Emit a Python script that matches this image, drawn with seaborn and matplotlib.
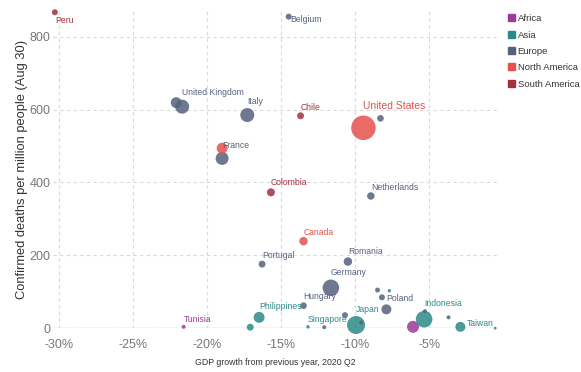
import matplotlib
matplotlib.use("Agg")
import matplotlib.pyplot as plt
import matplotlib.patches as mpatches
import seaborn as sns
import pandas as pd
import numpy as np

# ---- data ----
countries = ["Nigeria", "Tunisia",
             "Malaysia", "Philippines", "Singapore", "Israel", "Japan", "Indonesia", "South Korea", "Taiwan",
             "Belgium", "Spain", "United Kingdom", "Italy", "France", "Sweden", "Netherlands", "Romania",
             "Germany", "Hungary", "Portugal", "Poland", "", "", "", "", "", "", "",
             "Mexico", "United States", "Canada",
             "Peru", "Colombia", "Chile"]
continent = ["Africa", "Africa",
             "Asia", "Asia", "Asia", "Asia", "Asia", "Asia", "Asia", "Asia",
             "Europe", "Europe", "Europe", "Europe", "Europe", "Europe", "Europe", "Europe",
             "Europe", "Europe", "Europe", "Europe", "Europe", "Europe", "Europe", "Europe", "Europe", "Europe", "Europe",
             "North America", "North America", "North America",
             "South America", "South America", "South America"]
gdp_growth = [-6.1, -21.6,
              -17.1, -16.5, -13.2, -7.7, -9.95, -5.35, -2.9, -0.55,
              -14.5, -22.1, -21.7, -17.3, -19.0, -8.3, -8.95, -10.5,
              -11.65, -13.5, -16.3, -7.9, -8.5, -8.2, -10.7, -9.6, -12.1, -5.3, -3.7,
              -19.0, -9.45, -13.5,
              -30.3, -15.7, -13.7]
deaths_per_million = [4, 4,
                      3, 30, 4, 103, 9, 25, 4, 0.3,
                      855, 619, 608, 585, 466, 576, 363, 183,
                      111, 62, 176, 52, 105, 85, 36, 16, 3, 47, 30,
                      494, 550, 239,
                      867, 373, 583]
bubble_value = [36, 4,
                12, 30, 3, 3, 81, 69, 25, 2,
                9, 30, 49, 49, 42, 11, 14, 18,
                69, 11, 12, 25, 6, 9, 9, 4, 4, 4, 4,
                30, 150, 18,
                9, 16, 12]
legend_order = ["Africa", "Asia", "Europe", "North America", "South America"]
x_ticks = [-30, -25, -20, -15, -10, -5]
y_ticks = [0, 200, 400, 600, 800]

df = pd.DataFrame({"country": countries, "continent": continent,
                   "gdp": gdp_growth, "deaths": deaths_per_million, "bubble": bubble_value})

# ---- styles ----
palette = {"Africa": "#9a3b98", "Asia": "#2b8a87", "Europe": "#56617e",
           "North America": "#e5514d", "South America": "#a2303d"}
label_offsets = {  # (dx, dy) in pixels, screen-down positive
    "Peru": (0, 8), "Belgium": (2, 3), "United Kingdom": (0, -14), "Italy": (0, -14),
    "France": (0, -13), "Colombia": (0, -10), "Chile": (0, -8), "United States": (0, -22),
    "Netherlands": (0, -8), "Canada": (0, -9), "Romania": (0, -10), "Germany": (0, -15),
    "Hungary": (0, -9), "Poland": (0, -11), "Japan": (0, -16), "Singapore": (0, -7),
    "Indonesia": (0, -16), "Taiwan": (-2, -5), "Portugal": (0, -9), "Philippines": (0, -11),
    "Tunisia": (0, -7),
}

sns.set_style("white")
fam = ["Liberation Sans", "DejaVu Sans"]
plt.rcParams["font.family"] = fam

fig = plt.figure(figsize=(5.81, 3.72), dpi=100)
ax = fig.add_axes([0.0919, 0.1175, 0.7629, 0.8525])

sns.scatterplot(data=df, x="gdp", y="deaths", hue="continent", hue_order=legend_order,
                palette=palette, size="bubble", sizes=(0, 311), size_norm=(0, 150),
                alpha=0.85, linewidth=0, legend=False, ax=ax, clip_on=False, zorder=3)

ax.set_xlim(-30.4, -0.45)
ax.set_ylim(0, 870)
ax.set_xticks(x_ticks)
ax.set_xticklabels([f"{t}%" for t in x_ticks])
ax.set_yticks(y_ticks)
ax.tick_params(axis="both", length=0, labelsize=9, labelcolor="#777777")
ax.tick_params(axis="x", pad=8)
ax.tick_params(axis="y", pad=2)
for s in ax.spines.values():
    s.set_visible(False)
ax.grid(True, linestyle=(0, (3, 3)), color="#d9d9d9", linewidth=0.8)
ax.axhline(0, color="#cccccc", linewidth=1.0, zorder=1)

ax.set_xlabel("GDP growth from previous year, 2020 Q2", fontsize=6.3, color="#333333", labelpad=5)
ax.set_ylabel("Confirmed deaths per million people (Aug 30)", fontsize=9.3, color="#333333", labelpad=1)

for _, row in df.iterrows():
    name = row["country"]
    if name in label_offsets:
        dx, dy = label_offsets[name]
        ha = "right" if name == "Taiwan" else "left"
        fs = 7.5 if name == "United States" else 6.2
        ax.annotate(name, (row["gdp"], row["deaths"]), xytext=(dx * 0.72, -dy * 0.72),
                    textcoords="offset points", ha=ha, va="center", fontsize=fs,
                    color=palette[row["continent"]], zorder=5, annotation_clip=False)

handles = [mpatches.Patch(color=palette[c], label=c) for c in legend_order]
fig.legend(handles=handles, loc="upper left", bbox_to_anchor=(0.874, 0.962), frameon=False,
           fontsize=6.8, handlelength=0.75, handleheight=0.75, handletextpad=0.3,
           labelspacing=0.78, borderaxespad=0, borderpad=0, labelcolor="#333333")

fig.savefig("out.png", dpi=100)
